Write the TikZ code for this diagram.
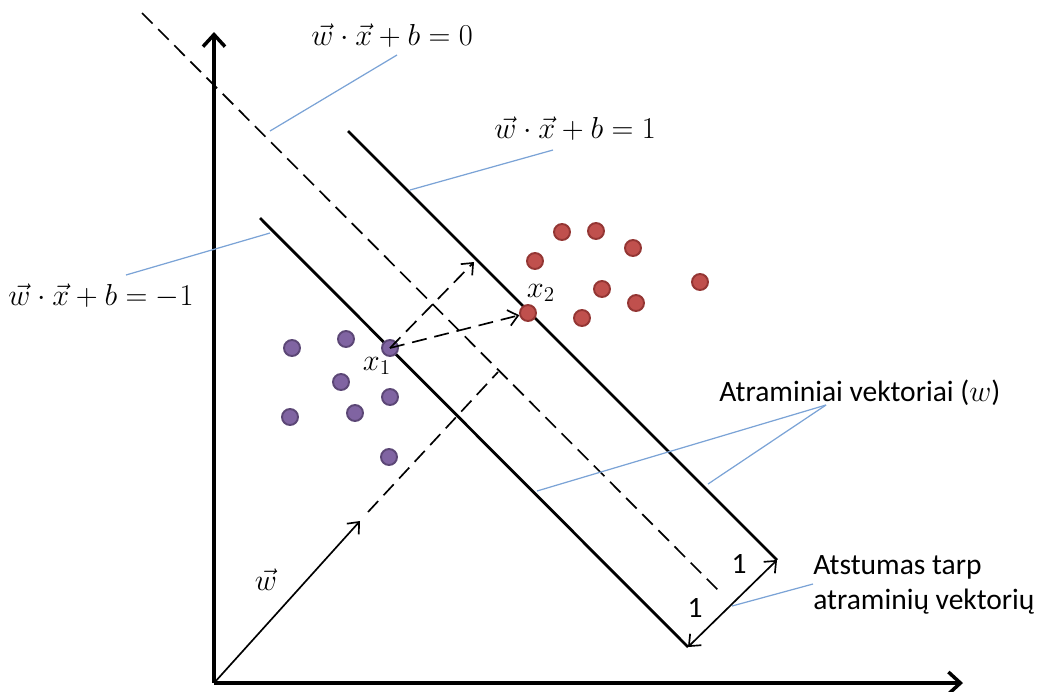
\documentclass[tikz,border=0pt]{standalone}
\usepackage{fontspec}
\setmainfont{Carlito}
\usetikzlibrary{arrows.meta}
\definecolor{leadc}{HTML}{7BA3D6}
\definecolor{pfill}{HTML}{8064A2}
\definecolor{pdraw}{HTML}{5C4776}
\definecolor{rfill}{HTML}{C0504D}
\definecolor{rdraw}{HTML}{943634}
\tikzset{
  axisline/.style={line width=2pt,-{Straight Barb[length=2.4mm,width=4.4mm]}},
  hyper/.style={line width=1.6pt},
  dline/.style={line width=0.95pt,dash pattern=on 8.5pt off 4.5pt},
  thinarrow/.style={line width=0.95pt},
  leader/.style={leadc,line width=0.7pt},
  pdot/.style={circle,inner sep=0pt,minimum size=0.32cm,fill=pfill,draw=pdraw,line width=1.1pt},
  rdot/.style={circle,inner sep=0pt,minimum size=0.32cm,fill=rfill,draw=rdraw,line width=1.1pt},
  lbl/.style={font=\fontsize{16.8}{20}\selectfont,inner sep=0pt},
  mlbl/.style={font=\fontsize{17.5}{20}\selectfont,inner sep=0pt},
}
\begin{document}
\begin{tikzpicture}[x=0.02cm,y=-0.02cm]
\useasboundingbox (0,0) rectangle (1047,691);
% axes
\coordinate (O) at (214,683);
\coordinate (ytop) at (214,32);
\coordinate (xend) at (963,683);
\draw[axisline] (O) -- (ytop);
\draw[axisline] (O) -- (xend);
% hyperplanes
\coordinate (m0s) at (142,13);
\coordinate (m0e) at (721,593);
\coordinate (ups) at (348,131);
\coordinate (upe) at (777,560);
\coordinate (los) at (260,218);
\coordinate (loe) at (688,647);
\draw[dline] (m0s) -- (m0e);
\draw[hyper] (ups) -- (upe);
\draw[hyper] (los) -- (loe);
% margin arrow
\draw[thinarrow,{Straight Barb[length=1.9mm,width=3.2mm]}-{Straight Barb[length=1.9mm,width=3.2mm]}] (loe) -- (upe);
\node[lbl] (one1) at (739,564) {1};
\node[lbl] (one2) at (695,608) {1};
% w vector
\coordinate (wtip) at (360,521);
\coordinate (wds) at (368,512);
\coordinate (wde) at (498,372);
\draw[thinarrow,-{Straight Barb[length=1.9mm,width=3.2mm]}] (O) -- (wtip);
\draw[dline] (wds) -- (wde);
\node[mlbl] (wlab) at (266,580) {$\vec{w}$};
% points
\node[pdot] (p1) at (292,348) {};
\node[pdot] (p2) at (346,339) {};
\node[pdot] (x1) at (390,348) {};
\node[pdot] (p4) at (341,382) {};
\node[pdot] (p5) at (390,397) {};
\node[pdot] (p6) at (290,417) {};
\node[pdot] (p7) at (355,413) {};
\node[pdot] (p8) at (389,457) {};
\node[rdot] (r1) at (562,232) {};
\node[rdot] (r2) at (596,231) {};
\node[rdot] (r3) at (633,248) {};
\node[rdot] (r4) at (535,261) {};
\node[rdot] (r5) at (602,289) {};
\node[rdot] (r6) at (636,303) {};
\node[rdot] (r7) at (582,318) {};
\node[rdot] (r8) at (700,282) {};
\node[rdot] (x2) at (528,313) {};
\node[mlbl] (x1lab) at (377,366) {$x_1$};
\node[mlbl] (x2lab) at (541,293) {$x_2$};
% dashed arrows from x1
\coordinate (pu) at (474,262);
\draw[dline,-{Straight Barb[length=1.9mm,width=3.2mm]}] (x1.center) -- (pu);
\draw[dline,-{Straight Barb[length=1.9mm,width=3.2mm]}] (x1.center) -- (x2);
% equations
\node[mlbl,anchor=base west] (eq0) at (311,45) {$\vec{w}\cdot\vec{x}+b=0$};
\node[mlbl,anchor=base west] (eq1) at (494,138) {$\vec{w}\cdot\vec{x}+b=1$};
\node[mlbl,anchor=base west] (eqm) at (8,305) {$\vec{w}\cdot\vec{x}+b=-1$};
\coordinate (l0a) at (397,55);
\coordinate (l0b) at (270,131);
\coordinate (l1a) at (553,150);
\coordinate (l1b) at (410,190);
\coordinate (lma) at (126,275);
\coordinate (lmb) at (270,233);
\draw[leader] (l0a) -- (l0b);
\draw[leader] (l1a) -- (l1b);
\draw[leader] (lma) -- (lmb);
% support vector label
\node[lbl,anchor=base west] (sv) at (719,401) {Atraminiai vektoriai ($w$)};
\coordinate (svc) at (826,405);
\coordinate (sva) at (537,491);
\coordinate (svb) at (708,484);
\draw[leader] (svc) -- (sva);
\draw[leader] (svc) -- (svb);
% distance label
\node[lbl,anchor=west,align=left] (dist) at (813,585) {Atstumas tarp\\atraminių vektorių};
\coordinate (dpt) at (732,606);
\coordinate (dst) at (813,584);
\draw[leader] (dst) -- (dpt);
\end{tikzpicture}
\end{document}
